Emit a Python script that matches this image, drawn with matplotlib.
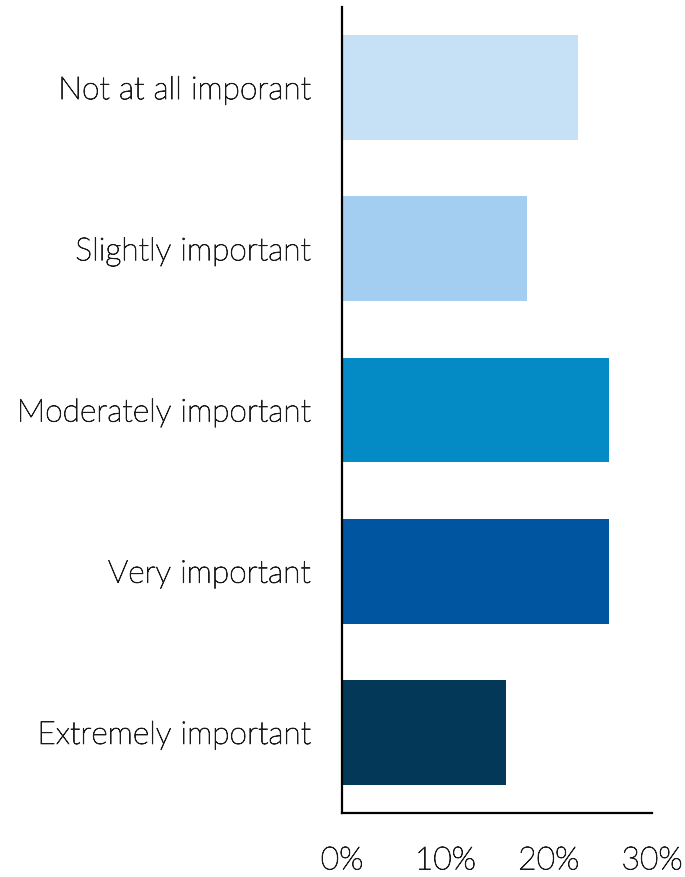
import matplotlib
matplotlib.use("Agg")
import matplotlib.pyplot as plt
import matplotlib.patheffects as pe

categories = ["Not at all imporant", "Slightly important", "Moderately important",
              "Very important", "Extremely important"]
values = [22.8, 17.9, 25.8, 25.8, 15.9]
colors = ["#C6E0F5", "#A3CEF1", "#048AC4", "#0055A0", "#043858"]
xticks = [0, 10, 20, 30]
xticklabels = ["0%", "10%", "20%", "30%"]

plt.rcParams['font.family'] = ['Lato', 'DejaVu Sans']

fig = plt.figure(figsize=(6.85, 8.77), dpi=100)
ax = fig.add_axes([342/685, 1-813/877, 310/685, 806/877])

ypos = list(range(len(categories)))
ax.barh(ypos, values, height=0.65, color=colors)
ax.set_ylim(len(categories)-0.5, -0.5)
ax.set_xlim(0, 30)
ax.set_yticks(ypos)
ax.set_yticklabels(categories, fontsize=22.9, fontweight='light', color='#1a1a1a')
ax.set_xticks(xticks)
ax.set_xticklabels(xticklabels, fontsize=22.9, fontweight='light', color='#1a1a1a')
ax.tick_params(axis='both', length=0)
ax.tick_params(axis='y', pad=23)
ax.tick_params(axis='x', pad=24)
effect = [pe.withStroke(linewidth=0.6, foreground='#1a1a1a')]
for lab in ax.get_yticklabels() + ax.get_xticklabels():
    lab.set_path_effects(effect)
for s in ['top', 'right']:
    ax.spines[s].set_visible(False)
for s in ['left', 'bottom']:
    ax.spines[s].set_linewidth(1.6)
    ax.spines[s].set_color('black')

fig.savefig("out.png", dpi=100)
